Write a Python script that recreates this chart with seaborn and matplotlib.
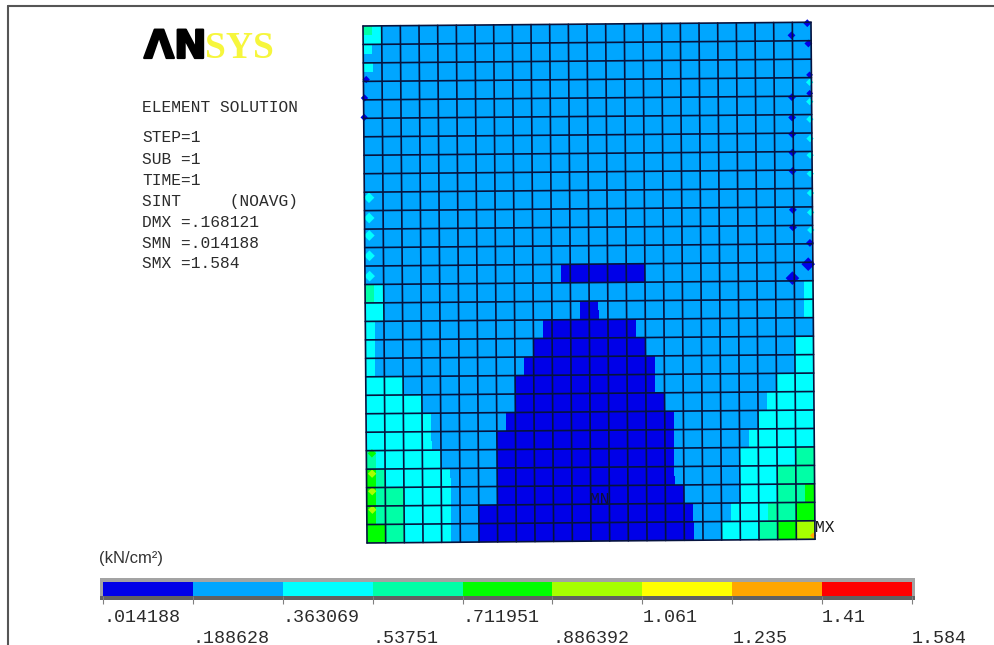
# Stress plot of a meshed plate, drawn as a banded heatmap with mesh lines on top
import numpy as np
import matplotlib
matplotlib.use('Agg')
import matplotlib.pyplot as plt
import matplotlib.patheffects as pe
from matplotlib.colors import ListedColormap
from matplotlib.lines import Line2D
from matplotlib.patches import Rectangle
from matplotlib.transforms import Affine2D
import seaborn as sns

# Band colours and band limits of the contour legend
band_colors = ['#0000e8', '#00a6ff', '#00ffff', '#00ffa6', '#00ff00',
               '#a6ff00', '#ffff00', '#ffa600', '#ff0000']
band_levels = [0, 1, 2, 3, 4, 5, 6, 7, 8]
band_labels = ['.014188', '.188628', '.363069', '.53751', '.711951',
               '.886392', '1.061', '1.235', '1.41', '1.584']

info_lines = ['STEP=1', 'SUB =1', 'TIME=1', 'SINT     (NOAVG)',
              'DMX =.168121', 'SMN =.014188', 'SMX =1.584']

# Band index per half element (56 rows, 48 columns)
blank = '1' * 48
plate_rows = [
    '32' + '1' * 46,
    '22' + '1' * 46,
    '21' + '1' * 46,
    blank,
    '21' + '1' * 46,
] + [blank] * 21 + [
    '1' * 21 + '0' * 9 + '1' * 18,
    '1' * 21 + '0' * 9 + '1' * 18,
    '32' + '1' * 45 + '2',
    '32' + '1' * 45 + '2',
    '22' + '1' * 21 + '00' + '1' * 22 + '2',
    '22' + '1' * 21 + '00' + '1' * 22 + '2',
    '2' + '1' * 18 + '0' * 10 + '1' * 19,
    '2' + '1' * 18 + '0' * 10 + '1' * 19,
    '2' + '1' * 17 + '0' * 12 + '1' * 16 + '22',
    '2' + '1' * 17 + '0' * 12 + '1' * 16 + '22',
    '2' + '1' * 16 + '0' * 14 + '1' * 15 + '22',
    '2' + '1' * 16 + '0' * 14 + '1' * 15 + '22',
    '2222' + '1' * 12 + '0' * 15 + '1' * 13 + '2222',
    '2222' + '1' * 12 + '0' * 15 + '1' * 13 + '2222',
    '2' * 6 + '1' * 10 + '0' * 16 + '1' * 11 + '2' * 5,
    '2' * 6 + '1' * 10 + '0' * 16 + '1' * 11 + '2' * 5,
    '2' * 7 + '1' * 8 + '0' * 18 + '1' * 9 + '2' * 6,
    '2' * 7 + '1' * 8 + '0' * 18 + '1' * 9 + '2' * 6,
    '2' * 7 + '1' * 7 + '0' * 19 + '1' * 8 + '2' * 7,
    '2' * 7 + '1' * 7 + '0' * 19 + '1' * 8 + '2' * 7,
    '3' + '2' * 7 + '1' * 6 + '0' * 19 + '1' * 7 + '2' * 6 + '33',
    '3' + '2' * 7 + '1' * 6 + '0' * 19 + '1' * 7 + '2' * 6 + '33',
    '43' + '2' * 7 + '1' * 5 + '0' * 19 + '1' * 7 + '2' * 4 + '3333',
    '43' + '2' * 7 + '1' * 5 + '0' * 19 + '1' * 7 + '2' * 4 + '3333',
    '4333' + '2' * 5 + '1' * 5 + '0' * 20 + '1' * 6 + '2' * 4 + '3334',
    '4333' + '2' * 5 + '1' * 5 + '0' * 20 + '1' * 6 + '2' * 4 + '3334',
    '4333' + '2' * 5 + '111' + '0' * 23 + '1' * 4 + '2' * 4 + '333' + '44',
    '4333' + '2' * 5 + '111' + '0' * 23 + '1' * 4 + '2' * 4 + '333' + '44',
    '4433' + '2' * 5 + '111' + '0' * 23 + '111' + '2' * 4 + '33' + '44' + '55',
    '4433' + '2' * 5 + '111' + '0' * 23 + '111' + '2' * 4 + '33' + '44' + '55',
]

# Small hot and cold spots at the plate edges (half element units)
spot_col = [0.3, 0.1, 0.05,
            45.9, 45.9, 45.9, 45.9, 45.9, 45.9, 45.9, 45.9,
            47.6, 47.7, 47.8, 47.8, 47.7, 47.5, 45.8,
            47.8, 47.8, 47.8, 47.8, 47.8, 47.8, 47.8, 47.8, 47.8,
            0.5, 0.5, 0.5, 0.5, 0.5,
            0.6, 0.6, 0.6, 0.6, 47.8]
spot_row = [5.8, 7.8, 9.9,
            1.4, 8.1, 10.3, 12.1, 14.1, 16.1, 20.3, 22.2,
            0.1, 2.3, 5.7, 7.7, 23.9, 26.2, 27.7,
            6.5, 8.6, 10.5, 12.6, 14.4, 16.4, 18.5, 20.6, 22.5,
            18.6, 20.8, 22.7, 24.9, 27.1,
            46.3, 48.5, 50.4, 52.4, 55.6]
spot_band = [0, 0, 0,
             0, 0, 0, 0, 0, 0, 0, 0,
             0, 0, 0, 0, 0, 0, 0,
             2, 2, 2, 2, 2, 2, 2, 2, 2,
             2, 2, 2, 2, 2,
             4, 5, 5, 5, 7]
spot_size = [14, 14, 14,
             16, 16, 16, 16, 16, 16, 16, 16,
             16, 16, 12, 12, 16, 48, 48,
             14, 14, 14, 14, 14, 14, 14, 14, 14,
             30, 30, 30, 30, 30,
             18, 18, 18, 18, 10]

W, H = 994, 645

sns.set_theme(style='white')
plt.rcParams['font.family'] = ['Liberation Mono', 'DejaVu Sans']


def axes_px(fig, left, top, right, bottom):
    # axes placed by pixel edges, y counted from the top of the picture
    return fig.add_axes([left / W, 1 - bottom / H, (right - left) / W, (bottom - top) / H])


def fig_text(fig, x, y, s, **kw):
    return fig.text(x / W, 1 - y / H, s, **kw)


fig = plt.figure(figsize=(W / 100, H / 100), dpi=100, facecolor='white')

# Plate: the mesh leans a little, so everything goes through one shear
ax = axes_px(fig, 363, 26, 811, 543)
plate = np.array([[int(ch) for ch in row] for row in plate_rows])
cmap = ListedColormap(band_colors)
sns.heatmap(plate, ax=ax, cmap=cmap, vmin=-0.5, vmax=8.5, cbar=False,
            xticklabels=False, yticklabels=False)
shear = Affine2D(np.array([[1, 0.0077, 0], [-0.0085, 1, 0], [0, 0, 1]])) + ax.transData
ax.collections[0].set_transform(shear)
ax.collections[0].set_clip_on(False)

sns.scatterplot(x=spot_col, y=spot_row, hue=spot_band, size=spot_size, sizes=(10, 48),
                palette={b: band_colors[b] for b in set(spot_band)},
                marker='D', linewidth=0, legend=False, ax=ax, zorder=3)
ax.collections[-1].set_offset_transform(shear)
ax.collections[-1].set_clip_on(False)

mesh_color = '#06133f'
for col in range(0, 49, 2):
    ax.plot([col, col], [0, 56], color=mesh_color, lw=1.2, transform=shear, clip_on=False, zorder=4)
for row in range(0, 57, 2):
    ax.plot([0, 48], [row, row], color=mesh_color, lw=1.2, transform=shear, clip_on=False, zorder=4)
ax.set_xlim(0, 48)
ax.set_ylim(56, 0)
ax.set_xlabel('')
ax.set_ylabel('')
ax.axis('off')

# Logo
lam = fig_text(fig, 144, 58, '\u039bN', family='DejaVu Sans', weight='bold', fontsize=28, color='black', va='baseline')
lam.set_path_effects([pe.withStroke(linewidth=1.6, foreground='black')])
fig_text(fig, 205, 58, 'SYS', family='Liberation Serif', weight='bold', fontsize=27, color='#f6f63c', va='baseline')

# Result summary on the left
text_color = '#2b2b2b'
fig_text(fig, 142, 107, 'ELEMENT SOLUTION', fontsize=11.7, color=text_color, va='center')
for y, line in zip([138, 159, 180, 201, 222, 243, 264], info_lines):
    fig_text(fig, 142, y, line, fontsize=11.7, color=text_color, va='center')
fig_text(fig, 815, 527, 'MX', fontsize=11.7, color='#1a1a1a', va='center')
fig_text(fig, 590, 499, 'MN', fontsize=11.7, color='#10103a', va='center')

# Legend bar with its bevel, kept behind the bar axes
fig.add_artist(Rectangle((100 / W, 1 - 600 / H), 815 / W, 22 / H, transform=fig.transFigure,
                         facecolor='#a3a3a3', edgecolor='none', zorder=-2))
fig.add_artist(Rectangle((100 / W, 1 - 600 / H), 815 / W, 4 / H, transform=fig.transFigure,
                         facecolor='#616161', edgecolor='none', zorder=-1))
ax_bar = axes_px(fig, 103, 582, 912, 596)
sns.heatmap(np.array([band_levels]), ax=ax_bar, cmap=cmap, vmin=-0.5, vmax=8.5, cbar=False,
            yticklabels=False)
ax_bar.set_xticks(np.arange(10))
shown = [lab if i % 2 == 0 else '\n' + lab for i, lab in enumerate(band_labels)]
ax_bar.set_xticklabels(shown, rotation=0, ha='left', fontsize=13.2, color='#2b2b2b', linespacing=1.3)
ax_bar.tick_params(axis='x', length=5.5, width=0.8, color='#808080', pad=3.7, bottom=True)

fig_text(fig, 99, 558, '(kN/cm\u00b2)', family='Liberation Sans', fontsize=12, color='#333333', va='center')

# Window frame: only the top and left edges show
frame_color = '#555555'
fig.add_artist(Line2D([8 / W, 1], [1 - 6 / H, 1 - 6 / H], color=frame_color, lw=1.5))
fig.add_artist(Line2D([8 / W, 8 / W], [0, 1 - 6 / H], color=frame_color, lw=1.5))

fig.savefig('out.png', dpi=100)
